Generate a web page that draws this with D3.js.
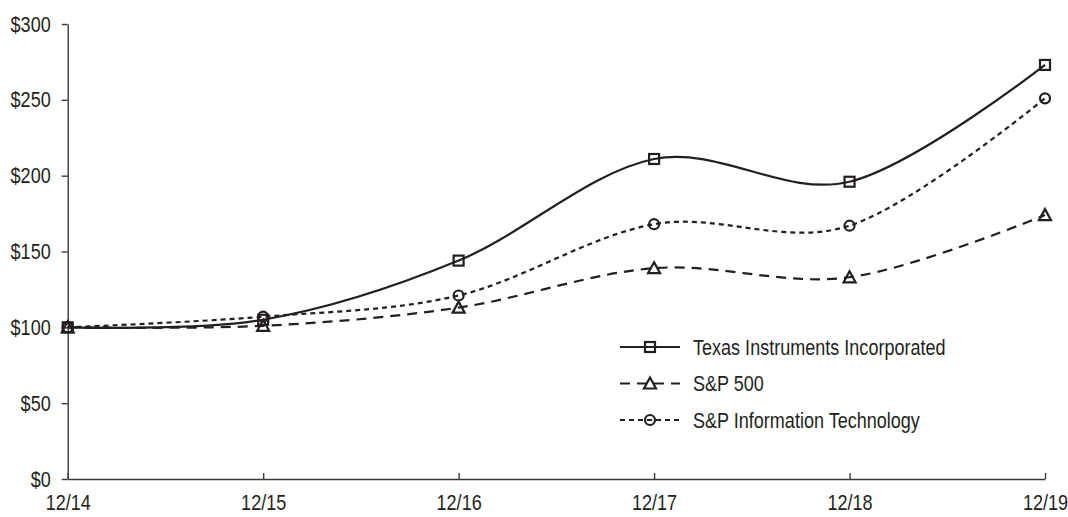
<!DOCTYPE html>
<html>
<head>
<meta charset="utf-8">
<script src="https://cdn.jsdelivr.net/npm/d3@7"></script>
<style>
  body { margin: 0; background: #fff; }
  text { font-family: "Liberation Sans Narrow", "Liberation Sans", Arial, sans-serif; fill: #231f20; }
</style>
</head>
<body>
<div id="chart"></div>
<script>
// Chart data
var years = ["12/14", "12/15", "12/16", "12/17", "12/18", "12/19"];
var texasInstruments = [100, 105, 144, 211, 196, 273];
var sp500 = [100, 101, 113, 139, 133, 174];
var spInfoTech = [100, 107, 121, 168, 167, 251];
var yTicks = [0, 50, 100, 150, 200, 250, 300];
var seriesNames = ["Texas Instruments Incorporated", "S&P 500", "S&P Information Technology"];

var svgWidth = 1068;
var svgHeight = 517;
var ink = "#231f20";
// narrow font is not installed, so squeeze the regular one horizontally
var squeeze = 0.82;
var fontSize = 22;

var svg = d3.select("#chart")
  .append("svg")
  .attr("width", svgWidth)
  .attr("height", svgHeight);

// Scales
var xScale = d3.scalePoint()
  .domain(years)
  .range([67.7, 1045]);

var yScale = d3.scaleLinear()
  .domain([0, 300])
  .range([479, 24]);

// Axes
var yAxis = svg.append("g")
  .attr("transform", `translate(${xScale(years[0])}, 0)`)
  .call(d3.axisLeft(yScale)
    .tickValues(yTicks)
    .tickFormat(d => "$" + d)
    .tickSizeInner(6)
    .tickSizeOuter(0)
    .tickPadding(11));

var xAxis = svg.append("g")
  .attr("transform", `translate(0, ${yScale(0)})`)
  .call(d3.axisBottom(xScale)
    .tickSizeInner(-6)
    .tickSizeOuter(0)
    .tickPadding(15));

svg.selectAll(".domain, .tick line")
  .attr("stroke", "#3a3a3a")
  .attr("stroke-width", 1.4);

svg.selectAll(".tick text")
  .attr("font-size", fontSize)
  .attr("fill", ink)
  .attr("x", function() { return +d3.select(this).attr("x") / squeeze; })
  .attr("transform", `scale(${squeeze}, 1)`);

// Series definitions
var series = [
  { name: seriesNames[0], values: texasInstruments, dash: null, marker: "square" },
  { name: seriesNames[1], values: sp500, dash: "10,7", marker: "triangle" },
  { name: seriesNames[2], values: spInfoTech, dash: "5,4", marker: "circle" }
];

var line = d3.line()
  .x((d, i) => xScale(years[i]))
  .y(d => yScale(d))
  .curve(d3.curveCatmullRom.alpha(0));

function drawMarker(group, type, cx, cy) {
  if (type === "square") {
    group.append("rect")
      .attr("x", cx - 5).attr("y", cy - 5)
      .attr("width", 10).attr("height", 10);
  } else if (type === "triangle") {
    group.append("path")
      .attr("d", `M${cx},${cy - 6} L${cx + 6},${cy + 5} L${cx - 6},${cy + 5} Z`);
  } else {
    group.append("circle")
      .attr("cx", cx).attr("cy", cy).attr("r", 5);
  }
}

var plot = svg.append("g");

series.forEach(function(s) {
  plot.append("path")
    .datum(s.values)
    .attr("fill", "none")
    .attr("stroke", ink)
    .attr("stroke-width", 2.2)
    .attr("stroke-dasharray", s.dash)
    .attr("d", line);

  var markers = plot.append("g")
    .attr("fill", "none")
    .attr("stroke", ink)
    .attr("stroke-width", 2.2);
  s.values.forEach(function(v, i) {
    drawMarker(markers, s.marker, xScale(years[i]), yScale(v));
  });
});

// Legend
var legend = svg.append("g")
  .attr("transform", "translate(620, 347)");

series.forEach(function(s, i) {
  var row = legend.append("g")
    .attr("transform", `translate(0, ${i * 36.5})`);
  row.append("line")
    .attr("x1", 0).attr("x2", 60)
    .attr("y1", 0).attr("y2", 0)
    .attr("stroke", ink)
    .attr("stroke-width", 2.2)
    .attr("stroke-dasharray", s.dash);
  var mk = row.append("g")
    .attr("fill", "none")
    .attr("stroke", ink)
    .attr("stroke-width", 2.2);
  drawMarker(mk, s.marker, 30, 0);
  row.append("text")
    .attr("x", 73 / squeeze)
    .attr("y", 0)
    .attr("dy", "0.35em")
    .attr("font-size", fontSize)
    .attr("transform", `scale(${squeeze}, 1)`)
    .text(s.name);
});
</script>
</body>
</html>
